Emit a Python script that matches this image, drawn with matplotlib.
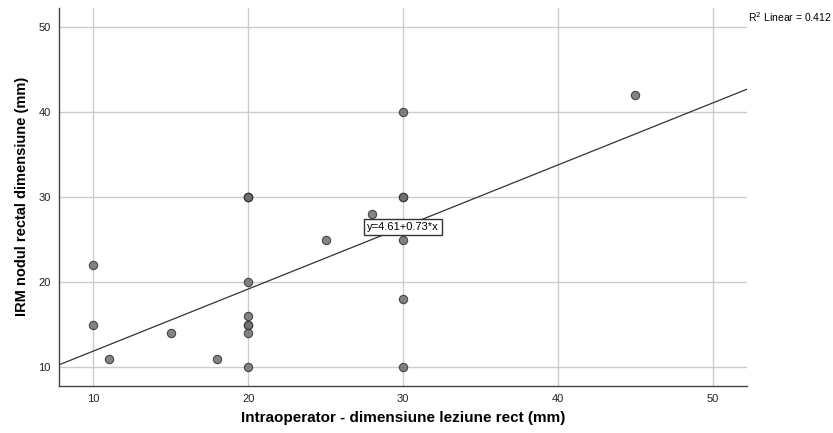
import matplotlib
matplotlib.use("Agg")
import matplotlib.pyplot as plt

# data
intraop = [10, 10, 11, 15, 18, 20, 20, 20, 20, 20, 20, 20, 20, 20, 25, 28, 30, 30, 30, 30, 30, 30, 45]
irm = [22, 15, 11, 14, 11, 30, 30, 20, 16, 15, 15, 14, 10, 30, 25, 28, 40, 30, 30, 25, 18, 10, 42]
intercept = 4.61
slope = 0.73
r2 = 0.412
x_ticks = [10, 20, 30, 40, 50]
y_ticks = [10, 20, 30, 40, 50]

plt.rcParams['font.family'] = ['Liberation Sans', 'DejaVu Sans']

fig = plt.figure(figsize=(8.33, 4.33), dpi=100)
ax = fig.add_axes([59 / 833, 1 - 386 / 433, 688 / 833, 378 / 433])

ax.set_xlim(7.78, 52.2)
ax.set_ylim(7.8, 52.27)
ax.set_xticks(x_ticks)
ax.set_yticks(y_ticks)
ax.grid(True, color="#cccccc", linewidth=1)
ax.set_axisbelow(True)

for side in ["top", "right"]:
    ax.spines[side].set_visible(False)
for side in ["left", "bottom"]:
    ax.spines[side].set_color("#444444")
    ax.spines[side].set_linewidth(1)
ax.tick_params(length=0, labelsize=8, colors="#222222")
ax.tick_params(axis="x", pad=6)
ax.tick_params(axis="y", pad=6)

# fit line over the full x range
x0, x1 = ax.get_xlim()
ax.plot([x0, x1], [intercept + slope * x0, intercept + slope * x1], color="#333333", linewidth=0.9, zorder=2)

ax.scatter(intraop, irm, s=36, facecolor="#6e6e6e", edgecolor="#333333", linewidth=0.8, alpha=0.85, zorder=3)

ax.text(30, 26.5, "y=4.61+0.73*x", fontsize=8, ha="center", va="center", zorder=4,
        bbox=dict(boxstyle="square,pad=0.3", facecolor="white", edgecolor="#333333", linewidth=1))

fig.text(832 / 833, 1 - 17 / 433, "R$^2$ Linear = " + f"{r2:.3f}", fontsize=7.5, ha="right", va="center")

fig.text(403 / 833, 1 - 418 / 433, "Intraoperator - dimensiune leziune rect (mm)",
         fontsize=11, fontweight="bold", ha="center", va="center")
fig.text(22 / 833, 1 - 196 / 433, "IRM nodul rectal dimensiune (mm)",
         fontsize=10.5, fontweight="bold", ha="center", va="center", rotation=90)

fig.savefig("out.png", dpi=100)
